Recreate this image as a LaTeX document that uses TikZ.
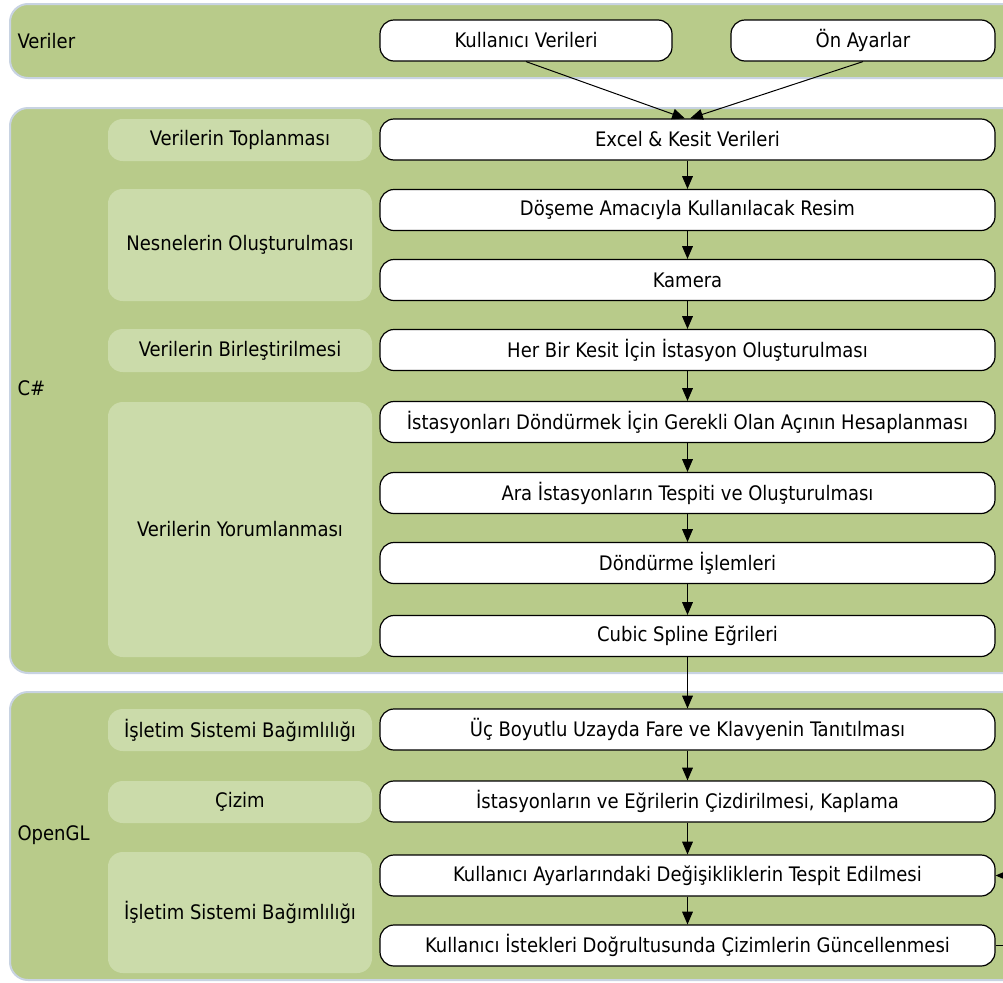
\documentclass[tikz,border=0pt]{standalone}
\usepackage{fontspec}
\setmainfont{DejaVu Sans Condensed}
\usetikzlibrary{arrows.meta}

\definecolor{laneGreen}{RGB}{184,203,138}
\definecolor{phaseGreen}{RGB}{203,219,170}
\definecolor{laneEdge}{RGB}{200,211,226}

\tikzset{every picture/.style={line width=0.75pt}}
\tikzset{
  lane/.style={draw=laneEdge, fill=laneGreen, line width=1.5pt, rounded corners=13.5pt},
  lanelabel/.style={anchor=west, inner sep=0.75pt, font=\fontsize{15}{18}\selectfont},
  stepbox/.style={draw=black, fill=white, line width=0.9pt, rounded corners=10.5pt, minimum width=461.25pt, minimum height=30.75pt, inner sep=0pt, font=\fontsize{15}{18}\selectfont},
  phase/.style={fill=phaseGreen, rounded corners=11pt, minimum width=198pt, inner sep=0pt, align=center, font=\fontsize{15}{18}\selectfont},
  flow/.style={-{Triangle[length=9.5pt,width=8pt]}}
}

\begin{document}
\begin{tikzpicture}[x=0.75pt,y=0.75pt,yscale=-1,xscale=1]
    \useasboundingbox (0,0) rectangle (1003,982);

    %Lanes
    \draw [lane] (10,4) rectangle (1040,78);
    \draw [lane] (10,108) rectangle (1040,673);
    \draw [lane] (10,692) rectangle (1040,980);

    % Lane titles
    \node [lanelabel] (lVeriler) at (16,41) {Veriler};
    \node [lanelabel] (lCsharp) at (16,388) {C\#};
    \node [lanelabel] (lOpenGL) at (16,835) {OpenGL};

    % Phase labels
    \node [phase, minimum height=31.5pt] (p1) at (240,140) {Verilerin Toplanması};
    \node [phase, minimum height=84pt] (p2) at (240,245) {Nesnelerin Oluşturulması};
    \node [phase, minimum height=32.25pt] (p3) at (240,350.5) {Verilerin Birleştirilmesi};
    \node [phase, minimum height=191.25pt] (p4) at (240,529.5) {Verilerin Yorumlanması};
    \node [phase, minimum height=31.5pt] (p5) at (240,730) {İşletim Sistemi Bağımlılığı};
    \node [phase, minimum height=31.5pt] (p6) at (240,802) {Çizim};
    \node [phase, minimum height=90.75pt] (p7) at (240,912.5) {İşletim Sistemi Bağımlılığı};

    % Input boxes
    \node [stepbox, minimum width=219pt] (kv) at (526,40.5) {Kullanıcı Verileri};
    \node [stepbox, minimum width=198pt] (oa) at (863,40.5) {Ön Ayarlar};

    % Steps
    \node [stepbox] (s1) at (687.5,139.5) {Excel \& Kesit Verileri};
    \node [stepbox] (s2) at (687.5,210) {Döşeme Amacıyla Kullanılacak Resim};
    \node [stepbox] (s3) at (687.5,280) {Kamera};
    \node [stepbox] (s4) at (687.5,350) {Her Bir Kesit İçin İstasyon Oluşturulması};
    \node [stepbox] (s5) at (687.5,422) {İstasyonları Döndürmek İçin Gerekli Olan Açının Hesaplanması};
    \node [stepbox] (s6) at (687.5,493) {Ara İstasyonların Tespiti ve Oluşturulması};
    \node [stepbox] (s7) at (687.5,563) {Döndürme İşlemleri};
    \node [stepbox] (s8) at (687.5,636) {Cubic Spline Eğrileri};
    \node [stepbox] (s9) at (687.5,729.5) {Üç Boyutlu Uzayda Fare ve Klavyenin Tanıtılması};
    \node [stepbox] (s10) at (687.5,801.5) {İstasyonların ve Eğrilerin Çizdirilmesi, Kaplama};
    \node [stepbox] (s11) at (687.5,875.5) {Kullanıcı Ayarlarındaki Değişikliklerin Tespit Edilmesi};
    \node [stepbox] (s12) at (687.5,945.5) {Kullanıcı İstekleri Doğrultusunda Çizimlerin Güncellenmesi};

    % Arrows
    \draw [flow] (kv.south) -- ([xshift=-2pt]s1.north);
    \draw [flow] (oa.south) -- ([xshift=2pt]s1.north);
    \foreach \a/\b in {s1/s2,s2/s3,s3/s4,s4/s5,s5/s6,s6/s7,s7/s8,s8/s9,s9/s10,s10/s11,s11/s12}
        \draw [flow] (\a) -- (\b);
    % Feedback
    \draw [flow] (s12.east) -- ++(17,0) |- (s11.east);

\end{tikzpicture}
\end{document}
